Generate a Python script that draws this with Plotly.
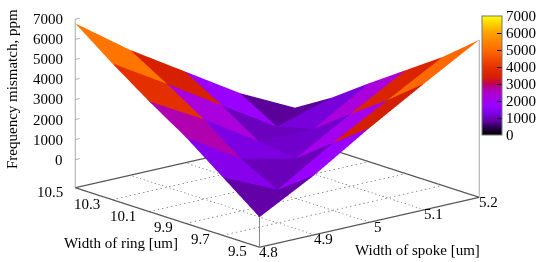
import numpy as np
import plotly.graph_objects as go

spoke = [4.8, 4.9, 5.0, 5.1, 5.2]
ring = [9.5, 9.7, 9.9, 10.1, 10.3, 10.5]
# rows = ring, columns = spoke
mismatch = [
    [100, 1575, 3300, 4900, 6450],
    [1500, 250, 1950, 3475, 5000],
    [2900, 1200, 600, 2200, 3750],
    [4100, 2575, 850, 850, 2500],
    [5400, 3750, 2050, 375, 1200],
    [6800, 4850, 3150, 1450, 100],
]
z_ticks = [0, 1000, 2000, 3000, 4000, 5000, 6000, 7000]
z_floor = -1400
z_top = 7000
palette_values = [0, 500, 800, 1250, 1750, 2300, 2700, 3000, 3400, 4000, 5000, 6000, 6500, 7000]
palette_colors = ["#000000", "#30005a", "#6000a0", "#7a00e0", "#9a00ff", "#aa00dd", "#b000b0", "#c0005a",
                  "#d41e00", "#e63200", "#ff6a00", "#ffa000", "#ffcc00", "#ffff00"]

FONT = "Liberation Serif"
FS = 15
TF = dict(family=FONT, size=FS, color="black")
colorscale = [[v / z_top, c] for v, c in zip(palette_values, palette_colors)]

Z = np.array(mismatch, float)
nr, ns = Z.shape
vx, vy, vz = [], [], []
for a in range(nr):
    for b in range(ns):
        vx.append(spoke[b]); vy.append(ring[a]); vz.append(Z[a, b])
I, J, K, C = [], [], [], []
for a in range(nr - 1):
    for b in range(ns - 1):
        p = a * ns + b
        q = p + 1
        r = p + ns
        s = r + 1
        m = Z[a:a + 2, b:b + 2].mean()
        I += [p, p]; J += [q, s]; K += [s, r]; C += [m, m]

fig = go.Figure()

def line(xs, ys, zs, color, width=1.5, dash="solid"):
    fig.add_trace(go.Scatter3d(x=xs, y=ys, z=zs, mode="lines", showlegend=False, hoverinfo="skip",
                               line=dict(color=color, width=width, dash=dash)))

for s in spoke[1:-1]:
    line([s, s], [ring[0], ring[-1]], [z_floor, z_floor], "#777777", 1.5, "dash")
for r in ring[1:-1]:
    line([spoke[0], spoke[-1]], [r, r], [z_floor, z_floor], "#777777", 1.5, "dash")
# base frame
line([spoke[0], spoke[-1], spoke[-1], spoke[0], spoke[0]],
     [ring[0], ring[0], ring[-1], ring[-1], ring[0]],
     [z_floor] * 5, "#555555", 2.5)
# verticals
line([spoke[0]] * 2, [ring[-1]] * 2, [z_floor, z_top], "#aaaaaa", 2)
line([spoke[0]] * 2, [ring[0]] * 2, [z_floor, Z[0, 0]], "#888888", 2)
line([spoke[-1]] * 2, [ring[0]] * 2, [z_floor, Z[0, -1]], "#aaaaaa", 2)
for t in z_ticks:
    line([spoke[0], spoke[0] + 0.008], [ring[-1]] * 2, [t, t], "#999999", 1.5)

fig.add_trace(go.Mesh3d(
    x=vx, y=vy, z=vz, i=I, j=J, k=K, intensity=C, intensitymode="cell",
    colorscale=colorscale, cmin=0, cmax=z_top, flatshading=True,
    lighting=dict(ambient=1, diffuse=0, specular=0, roughness=1, fresnel=0),
    hoverinfo="skip",
    colorbar=dict(lenmode="pixels", len=119, thicknessmode="pixels", thickness=20,
                  x=482 / 550, xanchor="left", xpad=0, y=1 - 75.5 / 262, yanchor="middle", ypad=0,
                  tickvals=z_ticks, ticks="inside", ticklen=5, tickcolor="black",
                  outlinecolor="#777777", outlinewidth=1, tickfont=TF),
))

labels = []
for r in ring:
    labels.append(dict(x=spoke[0], y=r, z=z_floor, text=f"{r:g}", showarrow=False, font=TF,
                       xanchor="right", yanchor="middle", xshift=-10.5, yshift=-4))
for s in spoke:
    labels.append(dict(x=s, y=ring[0], z=z_floor, text=f"{s:g}", showarrow=False, font=TF,
                       xanchor="center", yanchor="middle", xshift=9, yshift=-4.5))
for t in z_ticks:
    labels.append(dict(x=spoke[0], y=ring[-1], z=t, text=str(t), showarrow=False, font=TF,
                       xanchor="right", yanchor="middle", xshift=-10))

ax = dict(showbackground=False, showgrid=False, zeroline=False, showspikes=False, title="",
          showticklabels=False, showline=False, ticks="")
K_EYE = 1.5
SCALE = 2.2
CX, CY, CZ = -0.013, 0.011, -0.18
PAD_X, PAD_Y, PAD_Z = 0.001, 0.0025, 20
fig.update_layout(
    width=550, height=262, margin=dict(l=0, r=0, t=0, b=0), paper_bgcolor="white",
    font=TF,
    scene=dict(
        domain=dict(x=[0, 1], y=[0, 1]),
        xaxis=dict(ax, range=[4.8 - PAD_X, 5.2 + PAD_X]),
        yaxis=dict(ax, range=[9.5 - PAD_Y, 10.5 + PAD_Y]),
        zaxis=dict(ax, range=[z_floor - PAD_Z, z_top + PAD_Z]),
        aspectmode="manual", aspectratio=dict(x=SCALE, y=SCALE, z=0.61 * SCALE),
        annotations=labels,
        camera=dict(projection=dict(type="orthographic"),
                    eye=dict(x=-0.619 * K_EYE + CX, y=-0.738 * K_EYE + CY, z=0.271 * K_EYE + CZ),
                    center=dict(x=CX, y=CY, z=CZ), up=dict(x=0, y=0, z=1)),
    ),
    annotations=[
        dict(text="Frequency mismatch, ppm", x=12 / 550, y=1 - 89 / 262, xref="paper", yref="paper", textangle=-90,
             showarrow=False, xanchor="center", yanchor="middle"),
        dict(text="Width of ring [um]", x=121 / 550, y=1 - 243 / 262, xref="paper", yref="paper",
             showarrow=False, xanchor="center", yanchor="middle"),
        dict(text="Width of spoke [um]", x=417 / 550, y=1 - 250 / 262, xref="paper", yref="paper",
             showarrow=False, xanchor="center", yanchor="middle"),
    ],
)
fig.write_html("out.html", config=dict(displayModeBar=False),
               post_script="document.body.style.margin='0';document.body.style.overflow='hidden';window.dispatchEvent(new Event('resize'));")
